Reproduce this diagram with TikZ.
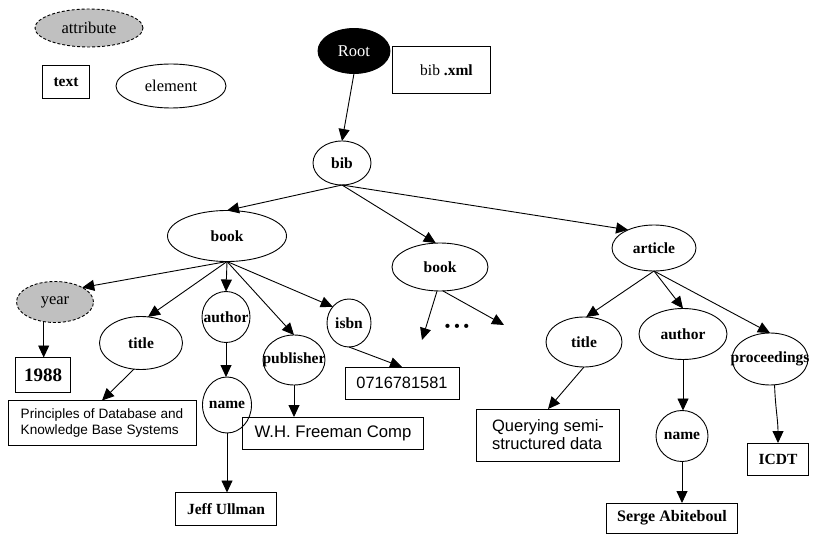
\documentclass[tikz,border=0pt]{standalone}
\usepackage{fontspec}
\setmainfont{Liberation Serif}
\newfontfamily\arialf{Liberation Sans}
\usetikzlibrary{shapes.geometric,arrows.meta}
\definecolor{attrgray}{RGB}{192,192,192}
\newcommand\nlbl[1]{\makebox[0pt]{#1}}
\begin{document}
\begin{tikzpicture}[x=1pt,y=-1pt,
  every node/.style={inner sep=0pt, outer sep=0pt},
  fb/.style={font=\fontsize{15.5}{18}\selectfont\bfseries},
  fr/.style={font=\fontsize{16.5}{19}\selectfont},
  el/.style 2 args={ellipse, draw, line width=0.9pt, minimum width=#1, minimum height=#2, fb},
  attr/.style 2 args={ellipse, draw, line width=0.9pt, dash pattern=on 3pt off 2pt, fill=attrgray, minimum width=#1, minimum height=#2, fr},
  tbox/.style 2 args={rectangle, draw, line width=0.9pt, minimum width=#1, minimum height=#2, fb},
  sbox/.style 2 args={rectangle, draw, line width=0.9pt, minimum width=#1, minimum height=#2, align=left},
  arr/.style={-{Triangle[length=12pt,width=11pt]}, line width=0.9pt}
]
\useasboundingbox (0,0) rectangle (816,534);

% legend
\node[attr={108}{38}] (lattr) at (89,28) {\nlbl{attribute}};
\node[tbox={47}{33}] (ltext) at (66,82) {text};
\node[el={110}{44}, fr] (lelem) at (171,86) {\nlbl{element}};

% root
\node[ellipse, draw, fill=black, line width=0.9pt, minimum width=72, minimum height=45, text=white, fr] (root) at (354,51) {\nlbl{Root}};
\node[rectangle, draw, line width=0.9pt, minimum width=98, minimum height=47, font=\fontsize{15.5}{18}\selectfont] (bibxml) at (441,70) {\hspace{11pt}bib \textbf{.xml}};

% tree elements
\node[el={58}{44}] (bib) at (342,163) {\nlbl{bib}};
\node[el={119}{51}] (book1) at (227,236) {\nlbl{book}};
\node[el={96}{48}] (book2) at (440,267) {\nlbl{book}};
\node[el={84}{46}] (article) at (654,248) {\nlbl{article}};

\node[attr={77}{41}] (year) at (55,302) {\nlbl{year}};
\node[el={83}{53}] (title1) at (141,343) {\nlbl{title}};
\node[el={48}{51}] (author1) at (226,317) {\nlbl{author}};
\node[el={49}{56}] (name1) at (227,405) {\nlbl{name}};
\node[el={62}{50}] (publisher) at (294,360) {\nlbl{publisher}};
\node[el={44}{48}] (isbn) at (349,323) {\nlbl{isbn}};

\node[el={76}{50}] (title2) at (584,342) {\nlbl{title}};
\node[el={88}{51}] (author2) at (683,334) {\nlbl{author}};
\node[el={52}{51}] (name2) at (682,436) {\nlbl{name}};
\node[el={76}{52}] (proc) at (770,359) {\nlbl{proceedings}};

% text boxes
\node[tbox={55}{35}, font=\fontsize{19}{21}\selectfont\bfseries] (y1988) at (43,375) {1988};
\node[sbox={188}{45}, font=\arialf\fontsize{13.6}{16.5}\selectfont] (princ) at (102,423) {Principles of Database and\\Knowledge Base Systems};
\node[tbox={101}{33}] (jeff) at (226,509) {Jeff Ullman};
\node[sbox={181}{32}, font=\arialf\fontsize{16.7}{19}\selectfont] (wh) at (333,433) {W.H. Freeman Comp};
\node[sbox={114}{32}, font=\arialf\fontsize{16.4}{19}\selectfont] (isbnv) at (402,383) {0716781581};
\node[sbox={143}{52}, font=\arialf\fontsize{16.5}{18}\selectfont] (query) at (548,435) {Querying semi-\\structured data};
\node[tbox={131}{30}, font=\fontsize{16}{18}\selectfont\bfseries] (serge) at (672,518) {Serge Abiteboul};
\node[tbox={61}{32}] (icdt) at (778,459) {ICDT};

% connectors
\draw[arr] (root.south) -- (bib.north);
\draw[arr] (bib.south) -- (book1.north);
\draw[arr] (bib.south) -- (book2.100);
\draw[arr] (bib.south) -- (article.145);

\draw[arr] (book1.south) -- (year.28);
\draw[arr] (book1.south) -- (title1.75);
\draw[arr] (book1.south) -- (author1.north);
\draw[arr] (book1.south) -- (publisher.north);
\draw[arr] (book1.south) -- (isbn.135);

\draw[arr] (year.240) -- (year.240 |- y1988.north);
\draw[arr] (title1.255) -- (princ.north);
\draw[arr] (author1.south) -- (author1.south |- name1.north);
\draw[arr] (name1.south) -- (name1.south |- jeff.north);
\draw[arr] (publisher.south) -- (publisher.south |- wh.north);
\draw[arr] (isbn.south) -- (isbnv.north);

\coordinate (d1) at (422,340);
\coordinate (d2) at (504,325);
\draw[arr] (book2.263) -- (d1);
\draw[arr] (book2.277) -- (d2);
\node[fb] (dots) at (457,328) {• • •};

\draw[arr] (article.south) -- (title2.85);
\draw[arr] (article.south) -- (author2.north);
\draw[arr] (article.south) -- (proc.north);
\draw[arr] (title2.south) -- (query.north);
\draw[arr] (author2.south) -- (author2.south |- name2.north);
\draw[arr] (name2.south) -- (name2.south |- serge.north);
\draw[arr] (proc.280) to[out=-88,in=90] (icdt.north);
\end{tikzpicture}
\end{document}
